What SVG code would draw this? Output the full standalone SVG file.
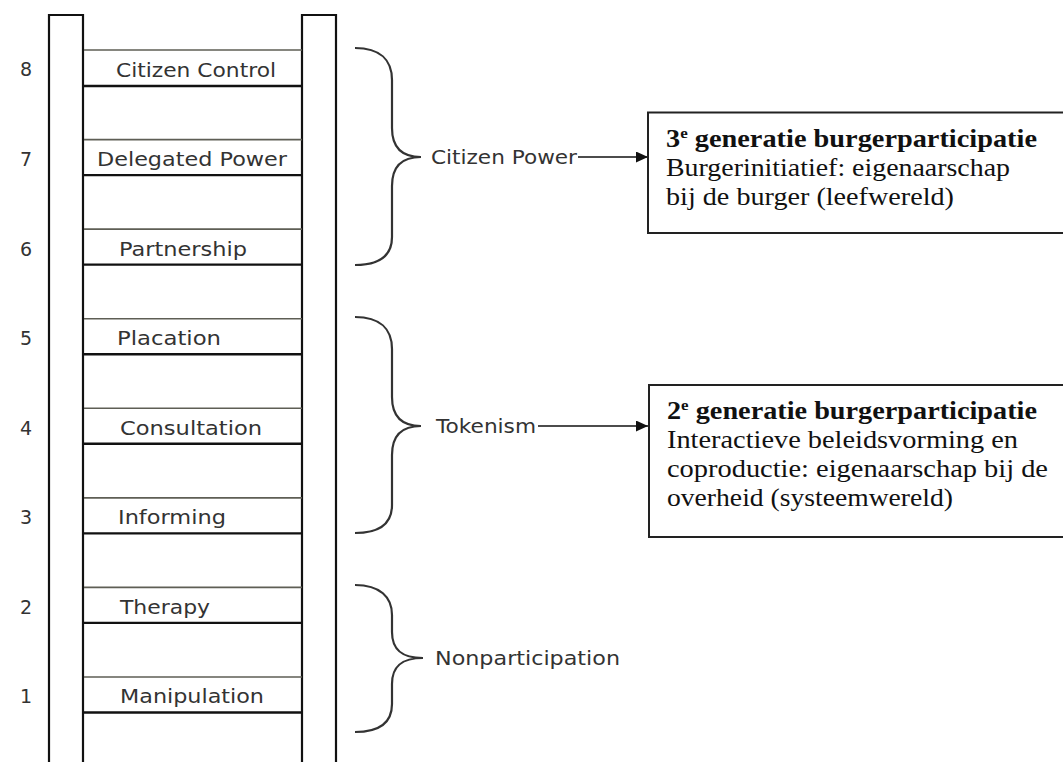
<svg xmlns="http://www.w3.org/2000/svg" width="1063" height="762" viewBox="0 0 1063 762">
<style>
.rail{fill:none;stroke:#111;stroke-width:2.2}
.rt{stroke:#5e5e55;stroke-width:1.6}
.rb{stroke:#111;stroke-width:2.4}
.num{font-family:"DejaVu Sans",sans-serif;font-size:19px;fill:#333;text-anchor:middle}
.lbl{font-family:"DejaVu Sans",sans-serif;font-size:20px;fill:#333}
.grp{font-family:"DejaVu Sans",sans-serif;font-size:20px;fill:#333}
.brace{fill:none;stroke:#333;stroke-width:2.2}
.arrow{stroke:#111;stroke-width:1.6;fill:none}
.box{fill:#fff;stroke:#222;stroke-width:2}
.bt{font-family:"Liberation Serif","Times New Roman",serif;font-size:25px;fill:#111}
.bb{font-weight:bold}
</style>
<defs>
<marker id="ah" markerUnits="userSpaceOnUse" markerWidth="12" markerHeight="11" refX="12" refY="5.5" orient="auto">
<path d="M0,0 L12,5.5 L0,11 z" fill="#111"/>
</marker>
</defs>
<rect width="1063" height="762" fill="#fff"/>
<g id="ladder">
<path class="rail" d="M49,770 V15 H83 V770"/>
<path class="rail" d="M302,770 V15 H336 V770"/>
</g>
<g id="rung8"><line class="rt" x1="84" y1="50" x2="302" y2="50"/><line class="rb" x1="84" y1="86" x2="302" y2="86"/><text class="num" x="26" y="76">8</text><text class="lbl" x="116" y="77" textLength="160" lengthAdjust="spacingAndGlyphs">Citizen Control</text></g>
<g id="rung7"><line class="rt" x1="84" y1="139.6" x2="302" y2="139.6"/><line class="rb" x1="84" y1="175.1" x2="302" y2="175.1"/><text class="num" x="26" y="166">7</text><text class="lbl" x="97" y="166" textLength="190" lengthAdjust="spacingAndGlyphs">Delegated Power</text></g>
<g id="rung6"><line class="rt" x1="84" y1="229.1" x2="302" y2="229.1"/><line class="rb" x1="84" y1="264.6" x2="302" y2="264.6"/><text class="num" x="26" y="256">6</text><text class="lbl" x="119" y="256" textLength="128" lengthAdjust="spacingAndGlyphs">Partnership</text></g>
<g id="rung5"><line class="rt" x1="84" y1="318.7" x2="302" y2="318.7"/><line class="rb" x1="84" y1="354.2" x2="302" y2="354.2"/><text class="num" x="26" y="345">5</text><text class="lbl" x="117" y="345" textLength="104" lengthAdjust="spacingAndGlyphs">Placation</text></g>
<g id="rung4"><line class="rt" x1="84" y1="408.3" x2="302" y2="408.3"/><line class="rb" x1="84" y1="443.8" x2="302" y2="443.8"/><text class="num" x="26" y="435">4</text><text class="lbl" x="120" y="435" textLength="142" lengthAdjust="spacingAndGlyphs">Consultation</text></g>
<g id="rung3"><line class="rt" x1="84" y1="497.9" x2="302" y2="497.9"/><line class="rb" x1="84" y1="533.4" x2="302" y2="533.4"/><text class="num" x="26" y="524">3</text><text class="lbl" x="118" y="524" textLength="108" lengthAdjust="spacingAndGlyphs">Informing</text></g>
<g id="rung2"><line class="rt" x1="84" y1="587.4" x2="302" y2="587.4"/><line class="rb" x1="84" y1="622.9" x2="302" y2="622.9"/><text class="num" x="26" y="614">2</text><text class="lbl" x="120" y="614" textLength="90" lengthAdjust="spacingAndGlyphs">Therapy</text></g>
<g id="rung1"><line class="rt" x1="84" y1="677" x2="302" y2="677"/><line class="rb" x1="84" y1="712.5" x2="302" y2="712.5"/><text class="num" x="26" y="703">1</text><text class="lbl" x="120" y="703" textLength="144" lengthAdjust="spacingAndGlyphs">Manipulation</text></g>
<g id="citizen-power">
<path class="brace" d="M355,48 C380,48 392,60 392,80 L392,128 C392,148 402,157 421,157 C402,157 392,166 392,186 L392,237 C392,255 380,265 355,265"/>
<text class="grp" x="431" y="164" textLength="146" lengthAdjust="spacingAndGlyphs">Citizen Power</text>
</g>
<g id="tokenism">
<path class="brace" d="M355,317 C380,317 392,329 392,349 L392,397 C392,417 402,426 421,426 C402,426 392,435 392,455 L392,505 C392,523 380,533 355,533"/>
<text class="grp" x="436" y="433" textLength="100" lengthAdjust="spacingAndGlyphs">Tokenism</text>
</g>
<g id="nonparticipation">
<path class="brace" d="M355,585 C380,585 392,597 392,615 L392,632 C392,650 402,658 423,658 C402,658 392,666 392,684 L392,704 C392,722 380,732 355,732"/>
<text class="grp" x="435" y="665" textLength="185" lengthAdjust="spacingAndGlyphs">Nonparticipation</text>
</g>
<g id="connectors">
<line class="arrow" x1="578" y1="157" x2="648" y2="157" marker-end="url(#ah)"/>
<line class="arrow" x1="538" y1="426" x2="648" y2="426" marker-end="url(#ah)"/>
</g>
<g id="box3">
<rect class="box" x="648" y="112.5" width="430" height="120.5"/>
<text class="bt bb" x="666" y="147" textLength="371" lengthAdjust="spacingAndGlyphs">3<tspan font-size="15" dy="-9">e</tspan><tspan dy="9"> generatie burgerparticipatie</tspan></text>
<text class="bt" x="666" y="176" textLength="344" lengthAdjust="spacingAndGlyphs">Burgerinitiatief: eigenaarschap</text>
<text class="bt" x="666" y="205" textLength="288" lengthAdjust="spacingAndGlyphs">bij de burger (leefwereld)</text>
</g>
<g id="box2">
<rect class="box" x="649" y="385" width="430" height="152"/>
<text class="bt bb" x="667" y="419" textLength="370" lengthAdjust="spacingAndGlyphs">2<tspan font-size="15" dy="-9">e</tspan><tspan dy="9"> generatie burgerparticipatie</tspan></text>
<text class="bt" x="667" y="448" textLength="351" lengthAdjust="spacingAndGlyphs">Interactieve beleidsvorming en</text>
<text class="bt" x="667" y="477" textLength="381" lengthAdjust="spacingAndGlyphs">coproductie: eigenaarschap bij de</text>
<text class="bt" x="667" y="506" textLength="286" lengthAdjust="spacingAndGlyphs">overheid (systeemwereld)</text>
</g>
</svg>
